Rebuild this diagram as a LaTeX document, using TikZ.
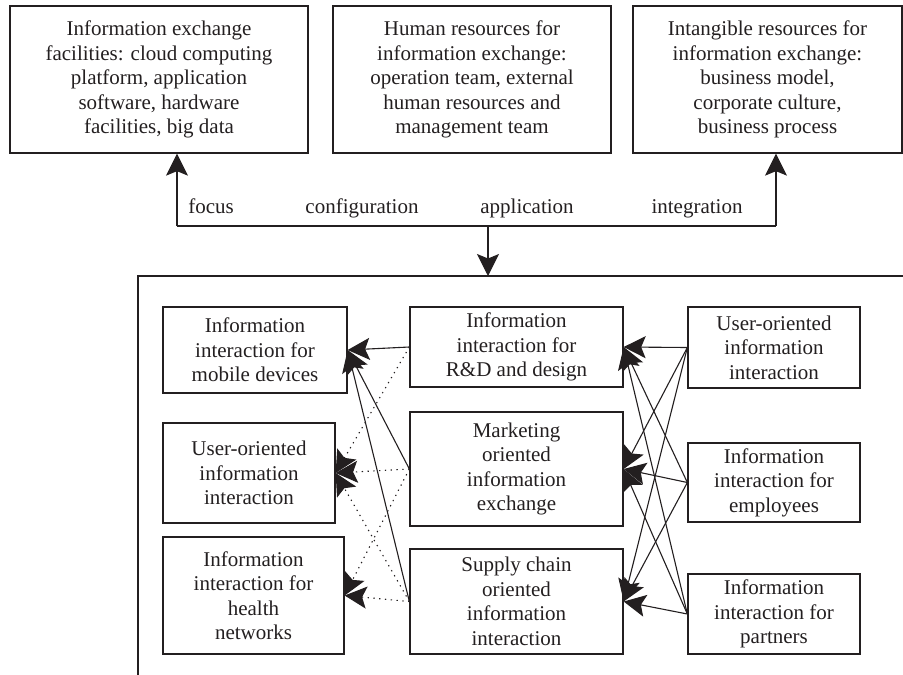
\documentclass[tikz,border=0pt]{standalone}
\usepackage{fontspec}
\setmainfont{Liberation Serif}
\usetikzlibrary{arrows.meta}
\definecolor{ink}{HTML}{231F20}
\begin{document}
\begin{tikzpicture}[x=1pt,y=-1pt,
  box/.style={draw=ink, line width=1.3pt, inner sep=0pt, align=center, text=ink,
              font=\fontsize{21}{24.5}\selectfont},
  lbl/.style={text=ink, font=\fontsize{21}{24.5}\selectfont, anchor=base, inner sep=0pt},
  wire/.style={draw=ink, line width=1.1pt},
  link/.style={wire, -{Stealth[length=22pt,width=22pt,inset=4.5pt]}},
  dots/.style={link, dash pattern=on 1.3pt off 4.5pt},
]
\useasboundingbox (0,0) rectangle (903,675);

% resource boxes
\node[box, minimum width=298, minimum height=147] (t1) at (159,79.5)
  {Information exchange\\facilities: cloud computing\\platform, application\\software, hardware\\facilities, big data};
\node[box, minimum width=278, minimum height=147] (t2) at (472,79.5)
  {Human resources for\\information exchange:\\operation team, external\\human resources and\\management team};
\node[box, minimum width=269, minimum height=147] (t3) at (767.5,79.5)
  {Intangible resources for\\information exchange:\\business model,\\corporate culture,\\business process};

% connector bar with its labels
\coordinate (jl) at (177,226);
\coordinate (jr) at (776,226);
\coordinate (jd) at (488,226);
\draw[wire] (jl) -- (jr);
\draw[link] (jl) -- (jl |- t1.south);
\draw[link] (jr) -- (jr |- t3.south);
\node[lbl] (lfocus) at (211,213) {focus};
\node[lbl] (lconf) at (362,213) {configuration};
\node[lbl] (lapp) at (527,213) {application};
\node[lbl] (lint) at (697,213) {integration};

% open frame
\coordinate (fr) at (903,276);
\coordinate (fc) at (138,276);
\coordinate (fb) at (138,675);
\draw[wire] (fr) -- (fc) -- (fb);
\draw[link] (jd) -- (jd |- fc);

% left column
\node[box, minimum width=184, minimum height=86] (l1) at (255,350)
  {Information\\interaction for\\mobile devices};
\node[box, minimum width=172, minimum height=100] (l2) at (249,473)
  {User-oriented\\information\\interaction};
\node[box, minimum width=181, minimum height=117] (l3) at (253.5,595.5)
  {Information\\interaction for\\health\\networks};

% middle column
\node[box, minimum width=213, minimum height=80] (m1) at (516.5,347)
  {Information\\interaction for\\R\&D and design};
\node[box, minimum width=213, minimum height=114] (m2) at (516.5,469)
  {Marketing\\oriented\\information\\exchange};
\node[box, minimum width=213, minimum height=105] (m3) at (516.5,601.5)
  {Supply chain\\oriented\\information\\interaction};

% right column
\node[box, minimum width=172, minimum height=81] (r1) at (774,347.5)
  {User-oriented\\information\\interaction};
\node[box, minimum width=172, minimum height=79] (r2) at (774,482.5)
  {Information\\interaction for\\employees};
\node[box, minimum width=172, minimum height=80] (r3) at (774,614)
  {Information\\interaction for\\partners};

% right to middle: every pair
\foreach \r in {r1,r2,r3}
  \foreach \m in {m1,m2,m3}
    \draw[link] (\r.west) -- (\m.east);

% middle to left
\draw[link] (m1.west) -- (l1.east);
\draw[link] (m2.west) -- (l1.east);
\draw[link] (m3.west) -- (l1.east);
\draw[dots] (m1.west) -- (l2.east);
\draw[dots] (m2.west) -- (l2.east);
\draw[dots] (m3.west) -- (l2.east);
\draw[dots] (m2.west) -- (l3.east);
\draw[dots] (m3.west) -- (l3.east);
\end{tikzpicture}
\end{document}
